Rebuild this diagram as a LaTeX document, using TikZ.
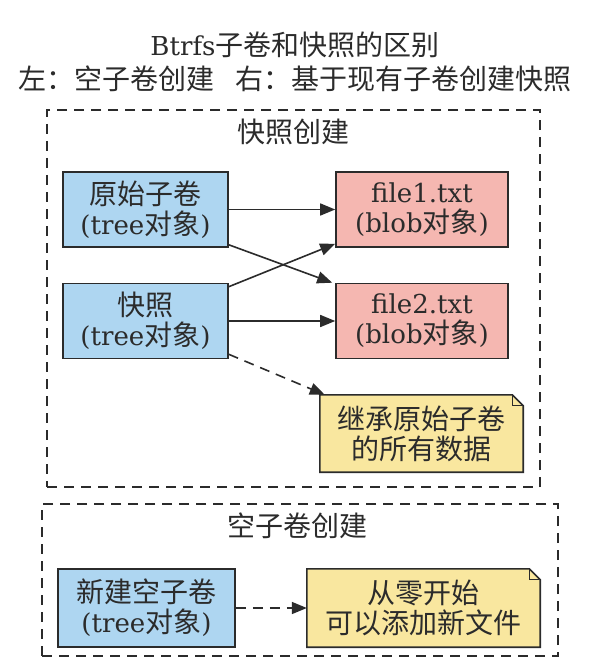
\documentclass[tikz,border=0pt]{standalone}
\usepackage{fontspec}
\setmainfont{DejaVu Serif}[Scale=0.93]
\newfontfamily\cjk{Noto Sans CJK SC}
\usetikzlibrary{arrows.meta,backgrounds}
\definecolor{bluefill}{HTML}{AED6F1}
\definecolor{pinkfill}{HTML}{F5B7B1}
\definecolor{yellowfill}{HTML}{F9E79F}
\definecolor{edgecol}{HTML}{2B2B2B}
\definecolor{txtcol}{HTML}{2B2B2B}
\newcommand{\drawnote}[1]{%
  \draw[draw=edgecol, line width=1.6pt, fill=yellowfill] (#1.south west) -- (#1.north west) -- ([xshift=-11pt]#1.north east) -- ([yshift=-11pt]#1.north east) -- (#1.south east) -- cycle;
  \draw[draw=edgecol, line width=1.3pt] ([xshift=-11pt]#1.north east) -- ([xshift=-11pt,yshift=-11pt]#1.north east) -- ([yshift=-11pt]#1.north east);}
\begin{document}
\begin{tikzpicture}[x=1pt,y=-1pt,
  font=\fontsize{28}{30}\selectfont, text=txtcol,
  box/.style={draw=edgecol, line width=1.6pt, align=center, inner sep=0pt},
  tree/.style={box, fill=bluefill},
  blob/.style={box, fill=pinkfill},
  notebox/.style={align=center, inner sep=0pt},
  cluster/.style={draw=edgecol, line width=1.6pt, dash pattern=on 10pt off 7pt, inner sep=0pt},
  link/.style={draw=edgecol, line width=1.6pt, -{Triangle[length=15pt,width=12pt]}},
  dlink/.style={link, dash pattern=on 10pt off 7pt},
]
\useasboundingbox (0,0) rectangle (591,660);

\node[align=center, inner sep=0pt] (title) at (295,62) {Btrfs{\cjk 子卷和快照的区别}\\[4pt]{\cjk 左：空子卷创建\hspace{22pt}右：基于现有子卷创建快照}};

\node[cluster, minimum width=493pt, minimum height=377pt] (c1) at (293.5,298.5) {};
\node (c1label) at (293,132) {\cjk 快照创建};

\node[tree, minimum width=165pt, minimum height=75pt] (orig) at (145.5,209.5) {{\cjk 原始子卷}\\({tree\cjk 对象})};
\node[tree, minimum width=165pt, minimum height=75pt] (snap) at (145.5,321) {{\cjk 快照}\\({tree\cjk 对象})};
\node[blob, minimum width=172pt, minimum height=75pt] (f1) at (422,209.5) {file1.txt\\({blob\cjk 对象})};
\node[blob, minimum width=172pt, minimum height=75pt] (f2) at (422,321) {file2.txt\\({blob\cjk 对象})};
\node[notebox, minimum width=203pt, minimum height=77pt] (note1) at (421.5,433.5) {{\cjk 继承原始子卷}\\{\cjk 的所有数据}};

\node[cluster, minimum width=516pt, minimum height=152pt] (c2) at (300,580) {};
\node (c2label) at (297,526) {\cjk 空子卷创建};

\node[tree, minimum width=177pt, minimum height=78pt] (new) at (146.5,608) {{\cjk 新建空子卷}\\({tree\cjk 对象})};
\node[notebox, minimum width=233pt, minimum height=78pt] (note2) at (423.5,608) {{\cjk 从零开始}\\{\cjk 可以添加新文件}};

\begin{scope}[on background layer]
\fill[white] (0,0) rectangle (591,660);
\drawnote{note1}
\drawnote{note2}
\end{scope}

\draw[link] (orig.east) -- (f1.west);
\draw[link] ([yshift=3pt]orig.south east) -- ([xshift=-3pt]f2.north west);
\draw[link] ([yshift=-4pt]snap.north east) -- ([yshift=4pt]f1.south west);
\draw[link] (snap.east) -- (f2.west);
\draw[dlink] ([yshift=5pt]snap.south east) -- ([xshift=5pt]note1.north west);
\draw[dlink] (new.east) -- (note2.west);
\end{tikzpicture}
\end{document}
